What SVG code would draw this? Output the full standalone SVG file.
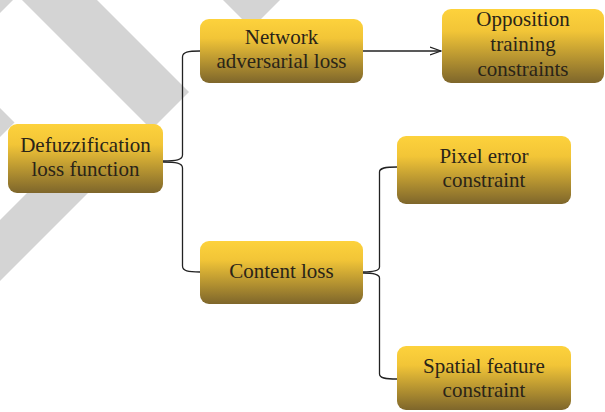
<svg xmlns="http://www.w3.org/2000/svg" width="605" height="412" viewBox="0 0 605 412">
  <defs>
    <linearGradient id="gold" x1="0" y1="0" x2="0" y2="1">
      <stop offset="0" stop-color="#fdd23c"/>
      <stop offset="0.3" stop-color="#f2c537"/>
      <stop offset="1" stop-color="#7e662b"/>
    </linearGradient>
    <marker id="arrow" viewBox="0 0 12 10" refX="11" refY="5" markerWidth="12" markerHeight="10" markerUnits="userSpaceOnUse" orient="auto">
      <path d="M0,1 L11,5 L0,9" fill="none" stroke="#222" stroke-width="1.3"/>
    </marker>
    <style>
      .box { fill: url(#gold); }
      .lbl { font-family: "Liberation Serif", "Times New Roman", serif; font-size: 21px; fill: #2a2418; text-anchor: middle; }
      .wm { fill: #d4d4d4; }
      .conn { fill: none; stroke: #222; stroke-width: 1.3; }
    </style>
  </defs>
  <rect width="605" height="412" fill="#fff"/>
  <g id="watermark">
    <polygon class="wm" points="0,0 13,0 0,13"/>
    <polygon class="wm" points="22,0 97,0 189,92 151.5,129.5"/>
    <polygon class="wm" points="0,220 70,150 131,150 0,281"/>
    <polygon class="wm" points="0,108 14.5,122.5 0,137"/>
    <polygon class="wm" points="223,0 280,0 251.5,28.5"/>
  </g>
  <g id="connectors">
    <path class="conn" d="M163,161 C176,161 182.5,160 182.5,155 V57 C182.5,52 188,51 200,51"/>
    <path class="conn" d="M163,162 C176,162 182.5,163 182.5,168 V266 C182.5,271 188,272 200,272"/>
    <path class="conn" d="M363,272 C373,272 379.5,271 379.5,267 V172 C379.5,168 385,167 397,167"/>
    <path class="conn" d="M363,273 C373,273 379.5,274 379.5,278 V374 C379.5,378 385,379 397,379"/>
    <line class="conn" x1="363" y1="51" x2="441" y2="51" marker-end="url(#arrow)"/>
  </g>
  <g id="defuzz">
    <rect class="box" x="8" y="124" width="155" height="69" rx="9"/>
    <text class="lbl" x="85.5" y="152">Defuzzification</text>
    <text class="lbl" x="85.5" y="176">loss function</text>
  </g>
  <g id="network">
    <rect class="box" x="200" y="19" width="163" height="64" rx="9"/>
    <text class="lbl" x="281.5" y="44">Network</text>
    <text class="lbl" x="281.5" y="68">adversarial loss</text>
  </g>
  <g id="opposition">
    <rect class="box" x="442" y="9" width="162" height="74" rx="9"/>
    <text class="lbl" x="523" y="26">Opposition</text>
    <text class="lbl" x="523" y="51">training</text>
    <text class="lbl" x="523" y="76">constraints</text>
  </g>
  <g id="pixel">
    <rect class="box" x="397" y="136" width="174" height="68" rx="9"/>
    <text class="lbl" x="484" y="163">Pixel error</text>
    <text class="lbl" x="484" y="187">constraint</text>
  </g>
  <g id="content">
    <rect class="box" x="200" y="241" width="163" height="63" rx="9"/>
    <text class="lbl" x="281.5" y="278">Content loss</text>
  </g>
  <g id="spatial">
    <rect class="box" x="397" y="346" width="174" height="64" rx="9"/>
    <text class="lbl" x="484" y="373">Spatial feature</text>
    <text class="lbl" x="484" y="397">constraint</text>
  </g>
</svg>
